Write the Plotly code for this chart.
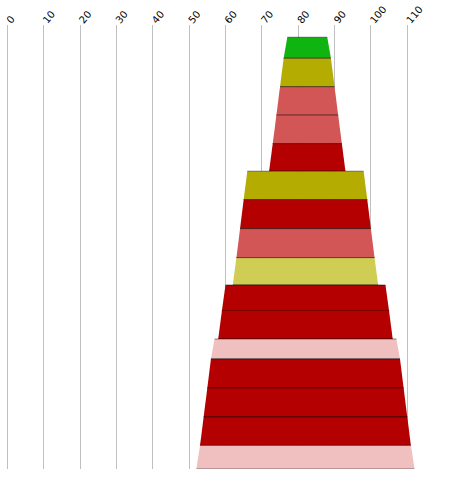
import plotly.graph_objects as go

# Row data, top row first: range at the top edge and at the bottom edge of each band
top_low = [77, 76, 75, 74, 73, 66, 65, 64, 63, 60, 59, 57, 56, 55, 54, 53]
top_high = [88, 89, 90, 91, 92, 98, 99, 100, 101, 104, 105, 107, 108, 109, 110, 111]
bottom_low = [76, 75, 74, 73, 72, 65, 64, 63, 62, 59, 58, 56, 55, 54, 53, 52]
bottom_high = [89, 90, 91, 92, 93, 99, 100, 101, 102, 105, 106, 108, 109, 110, 111, 112]
row_height = [0.74, 1, 1, 1, 0.97, 1, 1.02, 1.02, 0.96, 0.92, 0.98, 0.7, 1.02, 1.02, 1, 0.83]
row_color = ["#10b410", "#b4ac00", "#d35656", "#d35656", "#b40000", "#b4ac00",
             "#b40000", "#d35656", "#d0cd55", "#b40000", "#b40000", "#f0c0c0",
             "#b40000", "#b40000", "#b40000", "#f0c0c0"]
tick_values = [0, 10, 20, 30, 40, 50, 60, 70, 80, 90, 100, 110]

fig = go.Figure()

y0 = 0
for i in range(len(top_low)):
    y1 = y0 + row_height[i]
    # trapezoid band
    fig.add_trace(go.Scatter(
        x=[top_low[i], top_high[i], bottom_high[i], bottom_low[i], top_low[i]],
        y=[y0, y0, y1, y1, y0],
        mode="lines", fill="toself", fillcolor=row_color[i],
        line=dict(width=0), hoverinfo="skip"))
    # darker top / bottom edges
    fig.add_trace(go.Scatter(
        x=[top_low[i], top_high[i], None, bottom_low[i], bottom_high[i]],
        y=[y0, y0, None, y1, y1],
        mode="lines", line=dict(color="rgba(0,0,0,0.45)", width=1),
        hoverinfo="skip"))
    y0 = y1

fig.update_layout(
    width=452, height=477,
    margin=dict(l=0, r=0, t=25, b=8),
    paper_bgcolor="white", plot_bgcolor="white",
    showlegend=False,
    font=dict(family="DejaVu Sans, Verdana, sans-serif", size=10, color="#000000"),
    xaxis=dict(side="top", range=[-2.01, 122.3], tickvals=tick_values,
               tickangle=-50, showgrid=True, gridcolor="#c0c0c0", gridwidth=1,
               zeroline=False, showline=False, ticks="", ticklabelstandoff=-4),
    yaxis=dict(range=[y0, -0.43], visible=False),
)

# drop the default page margin so the figure sits at the top-left corner
fig.write_html("out.html", config={"displayModeBar": False},
               post_script="document.body.style.margin='0';")
